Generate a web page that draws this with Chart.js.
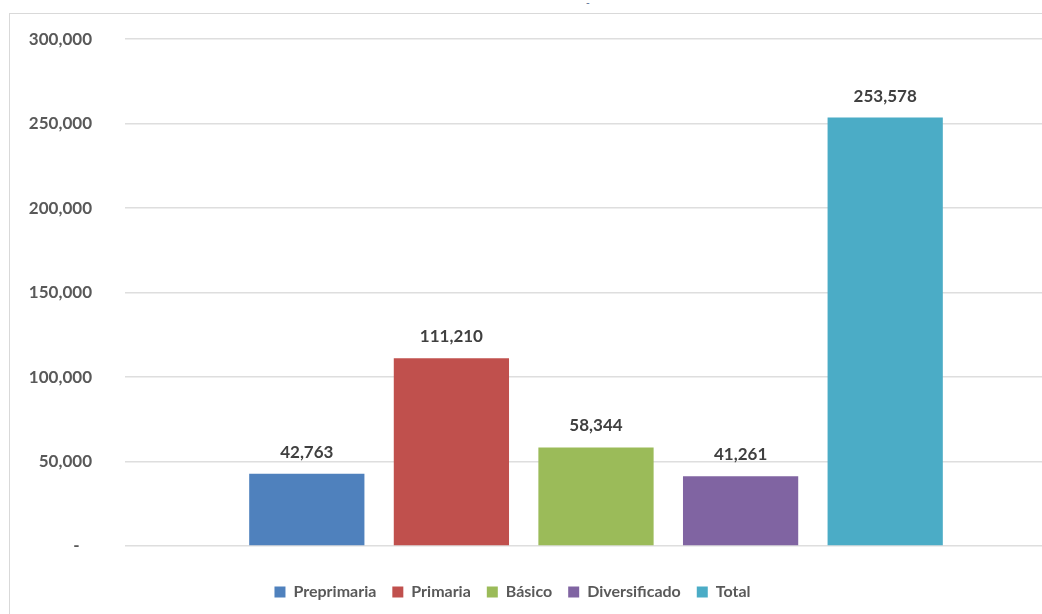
<!DOCTYPE html>
<html><head><meta charset="utf-8">
<script src="https://cdn.jsdelivr.net/npm/chart.js@4"></script>
<style>
html,body{margin:0;padding:0;background:#fff;overflow:hidden;width:1042px;height:614px;}
#frame{position:absolute;left:9px;top:13px;width:1080px;height:640px;border:1px solid #d9d9d9;}
#wrap{position:absolute;left:0;top:-18px;width:1057px;height:628px;}
#dash{position:absolute;left:586px;top:-4px;font:bold 10px Lato;color:#6f7f9f;}
</style></head><body>
<div id="dash">-</div>
<div id="frame"><div id="wrap"><canvas id="c"></canvas></div></div>
<script>
const categories = [''];
const seriesNames = ['Preprimaria', 'Primaria', 'Básico', 'Diversificado', 'Total'];
const seriesValues = [42763, 111210, 58344, 41261, 253578];
const seriesColors = ['#4F81BD', '#C0504D', '#9BBB59', '#8064A2', '#4BACC6'];
const yTickValues = [0, 50000, 100000, 150000, 200000, 250000, 300000];

const fmt = v => v.toLocaleString('en-US');
const FONT = 'Lato';

const valueLabels = {
  id: 'valueLabels',
  afterDatasetsDraw(chart) {
    const ctx = chart.ctx;
    ctx.save();
    ctx.font = 'bold 17px ' + FONT;
    ctx.fillStyle = '#404040';
    ctx.textAlign = 'center';
    ctx.textBaseline = 'alphabetic';
    chart.data.datasets.forEach((ds, i) => {
      chart.getDatasetMeta(i).data.forEach((bar, j) => {
        ctx.fillText(fmt(ds.data[j]), bar.x, bar.y - 16);
      });
    });
    ctx.restore();
  }
};

const legendShift = {
  id: 'legendShift',
  afterLayout(chart) {
    const l = chart.legend;
    if (l) { l.left -= 26; l.right -= 26; }
  }
};

new Chart(document.getElementById('c'), {
  type: 'bar',
  data: {
    labels: categories,
    datasets: seriesNames.map((name, i) => ({
      label: name,
      data: [seriesValues[i]],
      backgroundColor: seriesColors[i],
      borderWidth: 0,
      barPercentage: 0.797,
      categoryPercentage: 0.7675
    }))
  },
  options: {
    responsive: true,
    maintainAspectRatio: false,
    animation: false,
    layout: { padding: { left: 0, right: 0, top: 0, bottom: 14 } },
    plugins: {
      legend: {
        position: 'bottom',
        labels: {
          boxWidth: 11, boxHeight: 11, padding: 16,
          color: '#595959',
          font: { family: FONT, size: 16, weight: 'bold' }
        }
      },
      tooltip: { enabled: false },
      title: { display: false }
    },
    scales: {
      x: {
        display: true,
        grid: { display: false },
        border: { display: false },
        ticks: { display: false },
        afterFit: s => { s.height = 22; }
      },
      y: {
        min: 0, max: 300000,
        afterBuildTicks: s => { s.ticks = yTickValues.map(v => ({ value: v })); },
        afterFit: s => { s.width = 115; },
        grid: { color: '#dedede', lineWidth: 1.5, drawTicks: false },
        border: { display: false },
        ticks: {
          padding: 33,
          color: '#595959',
          font: { family: FONT, size: 17, weight: 'bold' },
          callback: v => v === 0 ? '-   ' : fmt(v)
        }
      }
    }
  },
  plugins: [valueLabels, legendShift]
});
</script>
</body></html>
